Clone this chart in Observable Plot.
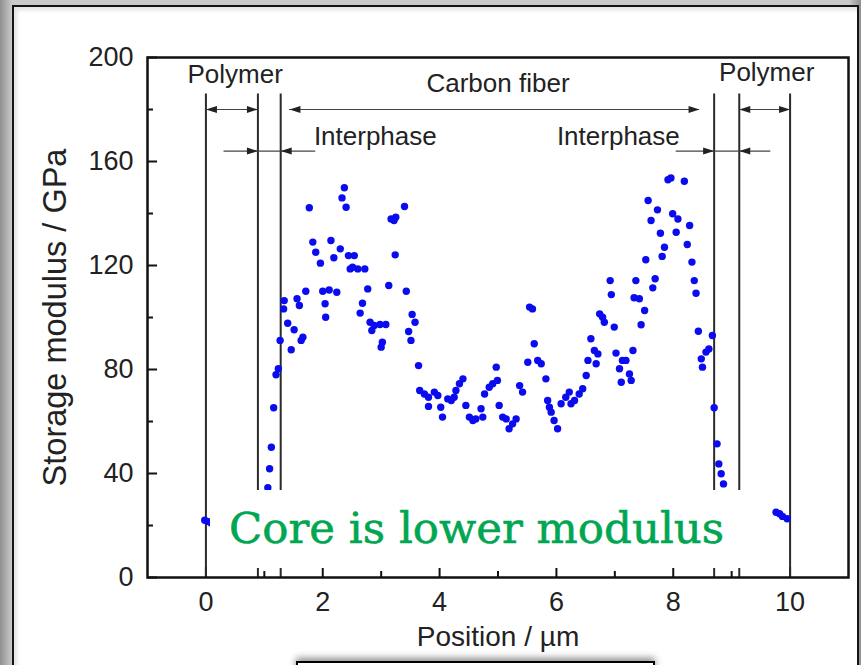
<!DOCTYPE html>
<html>
<head>
<meta charset="utf-8">
<script src="https://cdn.jsdelivr.net/npm/d3@7"></script>
<script src="https://cdn.jsdelivr.net/npm/@observablehq/plot@0.6"></script>
<style>
  html, body { margin: 0; padding: 0; }
  body {
    width: 861px; height: 665px; overflow: hidden; position: relative;
    background: linear-gradient(90deg, #8f8f8f 0px, #c9c9c9 12px, #c9c9c9 849px, #8f8f8f 861px);
    font-family: "Liberation Sans", Arial, sans-serif;
  }
  #panel {
    position: absolute; left: 12px; top: 5px; width: 843px; height: 700px;
    border: 2px solid #141414; background: #fff;
    box-shadow: inset 3px 3px 4px rgba(0,0,0,0.12);
  }
  #chart { position: absolute; left: 0; top: 0; }
  #note {
    position: absolute; left: 210px; top: 490px; width: 560px; height: 78px;
    background: #fff; color: #00a651;
    font-family: "DejaVu Serif", serif; font-size: 43.5px;
    -webkit-text-stroke: 0.6px #00a651;
    display: flex; align-items: center; justify-content: flex-start;
    box-sizing: border-box; padding-left: 19px; padding-bottom: 2px;
  }
  #slip {
    position: absolute; left: 296px; top: 661px; width: 355px; height: 20px;
    border: 2px solid #000; background: #fff;
    box-shadow: 0 -3px 7px rgba(0,0,0,0.45);
  }
</style>
</head>
<body>
<div id="panel"></div>
<div id="chart"></div>
<div id="note">Core is lower modulus</div>
<div id="slip"></div>
<script>
// Nanoindentation line scan across a carbon fibre: [position (µm), storage modulus (GPa)]
const scanPoints = [
  [-0.02, 22], [0.04, 21.5], [0.09, 21],
  [1.06, 34.5], [1.09, 41.8], [1.12, 50.1], [1.16, 65.3], [1.2, 78], [1.24, 80.3],
  [1.27, 91.2], [1.33, 103.3], [1.34, 106.5], [1.4, 97.8], [1.46, 87.6], [1.51, 95.3],
  [1.56, 107.2], [1.6, 104.6], [1.63, 91.2], [1.66, 92.4], [1.71, 110.1], [1.77, 142.2],
  [1.83, 129], [1.88, 125.1], [1.96, 120.9], [2.0, 110.1], [2.04, 105.3], [2.05, 100.1],
  [2.11, 110.6], [2.14, 129.6], [2.19, 123], [2.24, 109.7], [2.3, 126.4], [2.33, 146],
  [2.37, 149.9], [2.4, 142.4], [2.44, 123.8], [2.47, 118.7], [2.51, 119.3], [2.54, 123.8],
  [2.6, 118.7], [2.64, 101.7], [2.68, 105.5], [2.72, 118.7], [2.77, 111], [2.81, 98.2],
  [2.84, 95], [2.88, 96.9], [2.98, 97.3], [3.0, 88.6], [3.02, 90.5], [3.08, 97.3],
  [3.13, 112.3], [3.17, 137.9], [3.22, 137.3], [3.25, 138.6], [3.24, 124.1], [3.4, 142.7],
  [3.43, 110.1], [3.47, 94.6], [3.51, 91.2], [3.53, 101.2], [3.58, 98.2], [3.64, 81.5],
  [3.66, 71.9], [3.74, 70.6], [3.81, 69.3], [3.81, 65.8], [3.91, 71.3], [3.97, 70],
  [4.02, 65.5], [4.05, 61.7], [4.14, 68.7], [4.2, 68.1], [4.25, 69.3], [4.28, 71.9],
  [4.34, 74.5], [4.4, 76.4], [4.45, 66.2], [4.51, 61.7], [4.57, 60.4], [4.62, 61],
  [4.71, 64.9], [4.74, 61.7], [4.77, 70.6], [4.85, 73.2], [4.91, 74.5], [4.97, 80.9],
  [4.99, 75.8], [5.02, 66.2], [5.08, 61.7], [5.14, 61], [5.19, 57.2], [5.25, 59.1],
  [5.31, 61], [5.37, 73.8], [5.42, 71.3], [5.51, 82.8], [5.54, 104], [5.59, 103.3],
  [5.62, 89.9], [5.68, 83.5], [5.74, 82.2], [5.82, 76.4], [5.85, 68.1], [5.88, 65.5],
  [5.91, 63.6], [5.96, 60.4], [6.02, 57.2], [6.08, 66.8], [6.16, 69.3], [6.22, 71.3],
  [6.25, 66.8], [6.31, 68.1], [6.39, 70.6], [6.45, 72.6], [6.51, 77.7], [6.54, 83.5],
  [6.59, 91.8], [6.65, 87.3], [6.68, 82.2], [6.71, 86], [6.74, 101.4], [6.79, 100.1],
  [6.82, 98.2], [6.92, 114.2], [6.94, 108.8], [6.99, 96.3], [7.02, 86.3], [7.08, 80.3],
  [7.11, 75.1], [7.13, 83.5], [7.19, 83.5], [7.25, 78.3], [7.28, 75.8], [7.31, 87.3],
  [7.33, 107.6], [7.36, 114.2], [7.42, 107.2], [7.45, 97.2], [7.51, 102.7], [7.53, 122.2],
  [7.57, 145], [7.62, 137.3], [7.65, 111.4], [7.69, 114.9], [7.73, 141.4], [7.78, 132.4],
  [7.81, 123.5], [7.85, 127], [7.91, 153], [7.96, 153.7], [7.99, 139.9], [8.05, 132.8],
  [8.08, 137.9], [8.19, 152.4], [8.24, 128.1], [8.28, 135.4], [8.32, 121.3], [8.36, 114.2],
  [8.39, 109.3], [8.43, 94.7], [8.48, 84.1], [8.5, 80.9], [8.56, 86.7], [8.61, 87.9],
  [8.67, 93.1], [8.7, 65.3], [8.75, 51.4], [8.78, 43.7], [8.82, 39.9], [8.86, 36],
  [9.76, 25.1], [9.82, 24.5], [9.87, 23.5], [9.95, 22.6]
];

// Phase boundaries (µm) and the height (GPa) where their rules stop
const boundaries = [0, 0.89, 1.28, 8.70, 9.13, 10.0];
const boundaryTop = 186;

// Region labels
const regionLabels = [
  {x: 0.5, y: 193.5, text: "Polymer"},
  {x: 5.0, y: 190, text: "Carbon fiber"},
  {x: 9.6, y: 194, text: "Polymer"},
  {x: 2.9, y: 169.5, text: "Interphase"},
  {x: 7.06, y: 169.5, text: "Interphase"}
];

// Arrow shafts and their heads ("L" points left, "R" points right)
const shafts = [
  {x1: 0, x2: 0.89, y: 180},
  {x1: 1.43, x2: 8.45, y: 180},
  {x1: 9.13, x2: 10.0, y: 180},
  {x1: 0.31, x2: 1.88, y: 164},
  {x1: 8.05, x2: 9.67, y: 164}
];
const heads = [
  {x: 0, y: 180, dir: "L"}, {x: 0.89, y: 180, dir: "R"},
  {x: 1.43, y: 180, dir: "L"}, {x: 8.45, y: 180, dir: "R"},
  {x: 9.13, y: 180, dir: "L"}, {x: 10.0, y: 180, dir: "R"},
  {x: 0.89, y: 164, dir: "R"}, {x: 1.28, y: 164, dir: "L"},
  {x: 8.70, y: 164, dir: "R"}, {x: 9.13, y: 164, dir: "L"}
];

// Axis ticks
const xMajor = [0, 2, 4, 6, 8, 10];
const xMinor = [1, 3, 5, 7, 9];
const yMajor = [0, 40, 80, 120, 160, 200];
const yMinor = [20, 60, 100, 140, 180];

// Filled triangular arrowheads with the tip at the anchor point
const headRight = {draw(ctx) { ctx.moveTo(0, 0); ctx.lineTo(-11, -3.5); ctx.lineTo(-11, 3.5); ctx.closePath(); }};
const headLeft = {draw(ctx) { ctx.moveTo(0, 0); ctx.lineTo(11, -3.5); ctx.lineTo(11, 3.5); ctx.closePath(); }};

const W = 861, H = 665;
const mTop = 57, mLeft = 147, mRight = 13, mBottom = 88;
const frameW = W - mLeft - mRight, frameH = H - mTop - mBottom;

const chart = Plot.plot({
  width: W,
  height: H,
  marginTop: mTop,
  marginLeft: mLeft,
  marginRight: mRight,
  marginBottom: mBottom,
  style: {background: "transparent", fontFamily: "Liberation Sans, Arial, sans-serif", color: "#222"},
  x: {domain: [-1, 11], axis: null},
  y: {domain: [0, 200], axis: null},
  marks: [
    // inward ticks
    Plot.tickX(xMajor, {x: d => d, insetTop: frameH - 10, stroke: "#111", strokeWidth: 2}),
    Plot.tickX(xMinor, {x: d => d, insetTop: frameH - 6, stroke: "#111", strokeWidth: 2}),
    Plot.tickY(yMajor, {y: d => d, insetRight: frameW - 10, stroke: "#111", strokeWidth: 2}),
    Plot.tickY(yMinor, {y: d => d, insetRight: frameW - 6, stroke: "#111", strokeWidth: 2}),
    // tick labels
    Plot.axisX({ticks: xMajor, tickSize: 0, tickPadding: 14, fontSize: 27, label: null, fill: "#222"}),
    Plot.axisY({ticks: yMajor, tickSize: 0, tickPadding: 14, fontSize: 27, label: null, fill: "#222"}),
    // axis titles
    Plot.text(["Position / µm"], {frameAnchor: "bottom", dy: 60, lineAnchor: "middle", fontSize: 28, fill: "#222"}),
    Plot.text(["Storage modulus / GPa"], {frameAnchor: "left", dx: -92, rotate: -90, textAnchor: "middle", fontSize: 32.5, fill: "#222"}),
    // phase boundaries and annotations
    Plot.ruleX(boundaries, {x: d => d, y1: 0, y2: boundaryTop, stroke: "#2a2a2a", strokeWidth: 2}),
    Plot.ruleY(shafts, {x1: "x1", x2: "x2", y: "y", stroke: "#444", strokeWidth: 1.2}),
    Plot.dot(heads.filter(d => d.dir === "R"), {x: "x", y: "y", symbol: headRight, fill: "#222", stroke: null}),
    Plot.dot(heads.filter(d => d.dir === "L"), {x: "x", y: "y", symbol: headLeft, fill: "#222", stroke: null}),
    Plot.text(regionLabels, {x: "x", y: "y", text: "text", fontSize: 26, fill: "#222"}),
    // measurements
    Plot.dot(scanPoints, {x: d => d[0], y: d => d[1], r: 3.7, fill: "#0b0bf0", stroke: null}),
    Plot.frame({stroke: "#111", strokeWidth: 2.5})
  ]
});
document.getElementById("chart").append(chart);
</script>
</body>
</html>
